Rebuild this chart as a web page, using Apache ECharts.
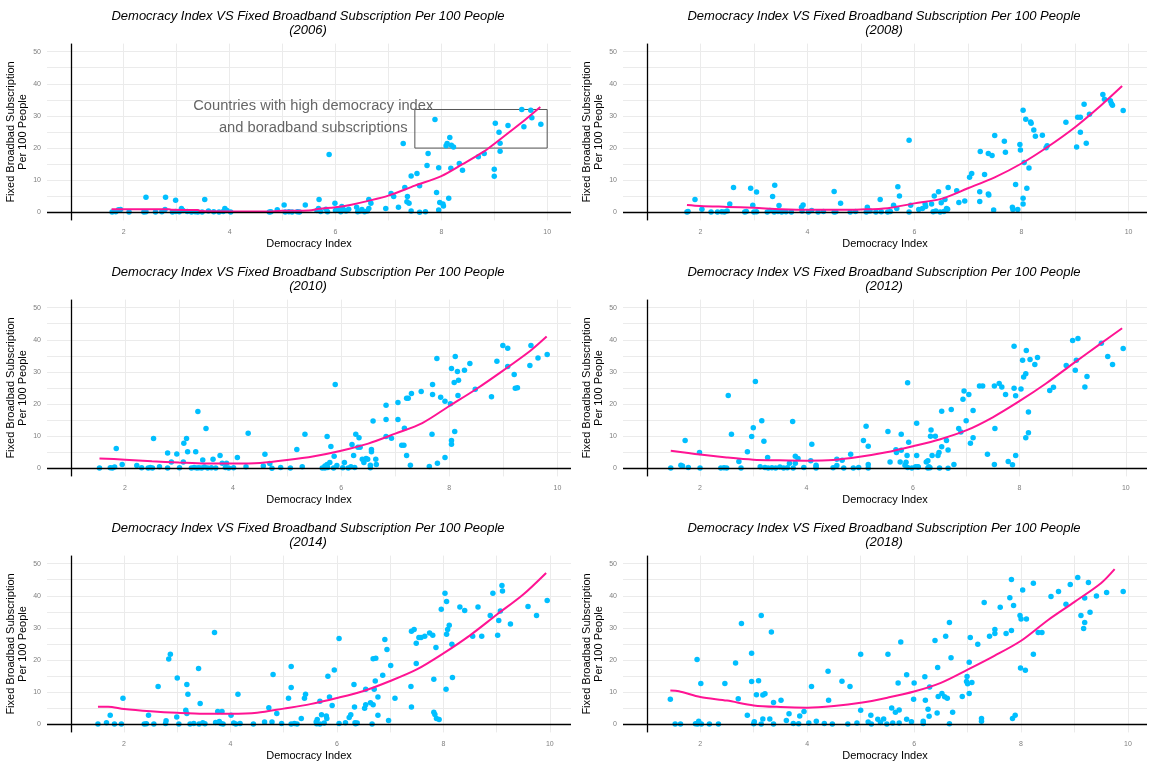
<!DOCTYPE html>
<html>
<head>
<meta charset="utf-8">
<script src="https://cdn.jsdelivr.net/npm/echarts@6/dist/echarts.min.js"></script>
<style>
  html, body { margin: 0; padding: 0; background: #fff; }
  #chart { width: 1152px; height: 768px; }
</style>
</head>
<body>
<div id="chart"></div>
<script>
// democracy index vs fixed broadband per 100 people, [x, y] per country
const years = ["2006", "2008", "2010", "2012", "2014", "2018"];

const pts2006 = [
  [1.78,0.1],[1.85,0.2],[1.9,0.8],[1.94,0.9],[2.1,0.1],[2.38,0.1],[2.42,0.2],[2.6,0.1],[2.72,0.2],[2.78,0.9],
  [2.92,0.1],[2.98,0.3],[3.05,0.2],[3.09,1.2],[3.12,0.6],[3.2,0.3],[3.28,0.1],[3.35,0.2],[3.4,0.1],[3.48,0.1],
  [3.6,0.4],[3.7,0.2],[3.8,0.1],[3.88,0.3],[3.91,1.2],[3.95,0.6],[4.02,0.1],[4.75,0.1],[4.78,0.2],[4.9,0.8],
  [5.05,0.1],[5.12,0.2],[5.18,0.1],[5.28,0.2],[5.32,0.1],[5.65,0.6],[5.68,1.2],[5.72,0.3],[5.82,1.0],[5.85,0.2],
  [6.0,0.6],[6.05,1.0],[6.1,0.2],[6.15,0.9],[6.2,0.4],[6.25,1.0],[6.42,0.2],[6.47,0.4],[6.5,0.9],[6.55,0.2],
  [6.6,0.4],[6.63,1.2],
  [2.42,4.7],[2.79,4.7],[2.98,3.8],[3.53,4.0],[5.03,2.3],[5.43,2.3],[5.69,4.0],[5.88,18.0],[5.99,2.8],[6.12,1.8],
  [6.4,1.6],[6.63,4.0],[6.67,2.8],[6.95,1.2],[7.05,5.9],[7.1,4.9],[7.19,1.6],[7.28,21.4],[7.31,7.7],[7.36,4.9],
  [7.35,3.3],[7.39,2.8],[7.43,11.3],[7.43,0.4],[7.54,12.1],[7.59,8.3],[7.59,0.0],[7.7,0.2],[7.73,14.6],[7.75,18.3],
  [7.88,28.9],[7.91,6.2],[7.95,13.9],[7.97,3.1],[7.95,0.7],[8.03,2.6],[8.04,2.0],[8.09,20.7],[8.11,21.4],[8.16,23.3],
  [8.14,4.4],[8.18,13.7],[8.19,20.9],[8.23,20.3],[8.34,15.2],[8.4,13.1],[8.7,17.3],[8.81,18.3],[9.02,27.7],[9.0,13.4],
  [9.0,11.2],[9.09,24.9],[9.11,19.0],[9.11,21.5],[9.26,27.0],[9.52,32.0],[9.56,26.6],[9.69,31.8],[9.71,29.4],[9.88,27.4]
];
const trend2006 = [
  [1.77,1.0],[2.2,1.0],[2.85,1.0],[2.9,0.8],[3.4,0.7],[3.45,0.4],[4.1,0.3],[4.8,0.3],[5.0,0.5],[5.5,0.6],
  [5.7,1.1],[6.0,1.6],[6.3,2.4],[6.6,3.5],[7.0,5.2],[7.5,8.3],[8.0,11.3],[8.4,15.0],[8.8,18.9],[9.1,22.6],
  [9.5,27.7],[9.87,32.8]
];

const pts2008 = [
  [1.75,0.1],[1.77,0.3],[2.2,0.1],[2.32,0.1],[2.4,0.2],[2.45,0.1],[2.5,0.4],[2.83,0.1],[2.86,0.3],[3.0,0.1],
  [3.05,0.2],[3.25,0.1],[3.3,0.6],[3.38,0.1],[3.45,0.3],[3.52,0.1],[3.6,0.2],[3.7,0.1],[3.9,0.4],[4.02,0.1],
  [4.08,0.6],[4.2,0.1],[4.3,0.3],[4.5,0.1],[4.53,0.2],[4.8,0.1],[4.9,0.3],[5.1,0.1],[5.17,0.4],[5.28,0.1],
  [5.38,0.2],[5.5,0.1],[5.55,0.3],[5.9,0.1],[6.35,0.2],[6.4,0.4],[6.48,0.1],[6.55,0.3],[6.62,1.0],
  [1.9,4.0],[2.03,1.0],[2.62,7.7],[2.94,7.5],[3.05,6.3],[2.98,2.2],[2.55,2.6],[3.35,4.9],[3.39,8.4],[3.47,2.1],
  [3.92,2.3],[3.89,1.6],[4.5,6.5],[4.62,2.8],[5.36,4.0],[5.12,1.6],[5.61,2.2],[5.69,8.0],[5.72,5.1],[5.67,1.2],
  [5.9,22.4],[5.93,2.2],[6.08,0.9],[6.15,1.2],[6.21,1.8],[6.2,2.6],[6.32,2.6],[6.37,5.1],[6.45,6.4],[6.5,3.0],
  [6.57,4.0],[6.63,7.7],[6.6,1.2],[6.79,6.7],[6.83,3.1],[6.94,3.5],[7.03,10.9],[7.07,12.1],[7.22,6.4],[7.22,3.4],
  [7.23,18.9],[7.31,11.8],[7.38,18.3],[7.38,5.7],[7.39,5.4],[7.45,17.7],[7.48,0.7],[7.5,23.9],[7.68,22.1],[7.7,18.7],
  [7.89,8.7],[7.83,1.6],[7.84,0.9],[7.93,0.9],[7.97,21.1],[7.98,19.4],[8.03,31.8],[8.05,15.5],[8.03,4.4],[8.03,2.6],
  [8.08,29.0],[8.1,7.5],[8.14,13.8],[8.17,28.1],[8.18,27.7],[8.23,25.6],[8.26,23.7],[8.39,24.0],[8.48,20.7],[8.46,20.1],
  [8.83,28.0],[9.03,20.3],[9.05,29.6],[9.1,29.6],[9.1,24.9],[9.17,33.6],[9.21,21.5],[9.27,30.5],[9.52,36.7],[9.55,35.2],
  [9.66,34.7],[9.68,33.9],[9.7,33.3],[9.9,31.7]
];
const trend2008 = [
  [1.75,2.3],[2.0,2.0],[2.5,1.7],[3.0,1.4],[3.5,1.0],[4.0,0.8],[4.5,0.8],[5.0,0.9],[5.5,1.3],[6.0,2.8],
  [6.5,4.2],[7.0,7.5],[7.5,10.9],[8.0,15.2],[8.5,20.5],[9.0,26.5],[9.5,33.5],[9.88,39.3]
];

const pts2010 = [
  [1.53,0.1],[1.73,0.2],[1.77,0.1],[1.81,0.4],[2.31,0.2],[2.43,0.1],[2.47,0.3],[2.51,0.1],[2.79,0.1],[3.01,0.2],
  [3.23,0.1],[3.28,0.3],[3.33,0.1],[3.37,0.2],[3.42,0.1],[3.47,0.4],[3.53,0.1],[3.6,0.2],[3.68,0.1],[3.86,0.3],
  [3.92,0.1],[4.01,0.2],[5.06,0.1],[5.7,0.1],[5.75,0.3],[5.86,0.1],[6.03,0.2],[6.13,0.1],[6.54,0.2],
  [1.84,6.2],[1.95,1.2],[2.22,0.9],[2.53,9.3],[2.64,0.5],[2.79,4.8],[2.86,2.0],[2.96,4.5],[3.09,7.8],[3.14,9.3],
  [3.16,5.2],[3.08,2.0],[3.31,5.2],[3.35,17.7],[3.44,2.6],[3.5,12.4],[3.63,2.8],[3.76,4.0],[3.8,1.6],[3.88,1.6],
  [4.08,3.4],[4.24,0.5],[4.28,10.9],[4.56,0.7],[4.59,4.4],[4.68,1.5],[4.72,0.0],[4.88,0.3],[5.18,5.9],[5.28,0.5],
  [5.33,10.6],[5.65,0.1],[5.7,0.7],[5.74,1.2],[5.79,1.8],[5.74,9.9],[5.81,6.8],[5.89,26.1],[5.87,3.8],[5.92,0.9],
  [6.06,1.8],[6.18,0.5],[6.2,7.4],[6.23,4.0],[6.25,0.3],[6.27,10.6],[6.31,6.6],[6.33,9.5],[6.35,6.6],[6.39,2.8],
  [6.42,1.8],[6.46,3.1],[6.49,2.8],[6.54,1.0],[6.56,5.9],[6.56,5.2],[6.59,14.7],[6.64,2.8],[6.65,1.2],[6.83,19.6],
  [6.83,15.2],[6.83,9.9],[6.93,9.4],[7.05,20.5],[7.05,15.2],[7.12,7.2],[7.16,7.2],[7.17,12.5],[7.21,21.8],[7.24,21.8],
  [7.21,4.0],[7.28,1.0],[7.3,23.3],[7.48,23.9],[7.63,0.6],[7.68,10.6],[7.69,26.1],[7.69,23.0],[7.77,34.2],[7.78,1.6],
  [7.84,22.1],[7.92,20.9],[7.92,3.4],[8.02,20.1],[8.04,31.1],[8.04,8.7],[8.04,7.5],[8.09,26.7],[8.1,11.5],[8.11,34.8],
  [8.15,30.1],[8.17,27.4],[8.16,22.7],[8.28,30.5],[8.38,32.6],[8.48,24.6],[8.78,22.3],[8.88,33.3],[8.99,38.2],[9.08,37.4],
  [9.08,31.7],[9.2,29.2],[9.22,24.9],[9.26,25.1],[9.49,32.0],[9.51,38.2],[9.64,34.3],[9.81,35.4]
];
const trend2010 = [
  [1.53,3.1],[2.0,2.7],[2.5,2.2],[3.0,1.8],[3.5,1.5],[4.0,1.5],[4.5,1.7],[5.0,2.6],[5.5,3.8],[6.0,5.5],
  [6.5,7.7],[7.0,10.8],[7.5,14.1],[8.0,19.4],[8.5,24.7],[9.0,30.5],[9.5,36.6],[9.8,41.0]
];

const pts2012 = [
  [1.45,0.1],[1.78,0.3],[2.0,0.1],[2.39,0.1],[2.45,0.2],[2.5,0.1],[2.77,0.1],[3.22,0.3],[3.28,0.1],[3.35,0.2],
  [3.42,0.1],[3.5,0.4],[3.57,0.1],[3.64,0.2],[3.75,0.1],[3.95,0.3],[4.18,0.1],[4.5,0.2],[4.7,0.1],[4.88,0.1],
  [4.98,0.3],[5.16,0.1],[5.9,0.3],[5.98,0.1],[6.1,0.4],[6.28,0.1],[6.32,0.2],[6.5,0.1],
  [1.72,8.7],[1.64,1.0],[1.67,0.7],[1.99,4.9],[2.53,22.7],[2.59,10.6],[2.73,2.1],[2.89,5.2],[2.97,9.9],[3.0,12.6],
  [3.04,27.0],[3.13,0.5],[3.16,14.8],[3.2,8.4],[3.27,3.4],[3.68,1.6],[3.74,14.6],[3.79,3.8],[3.84,3.1],[3.79,1.6],
  [4.1,7.5],[4.08,2.4],[4.18,1.0],[4.18,0.5],[4.57,2.8],[4.57,0.9],[4.67,2.5],[4.83,4.4],[5.07,8.7],[5.12,13.1],
  [5.16,6.9],[5.16,1.2],[5.53,11.5],[5.57,2.0],[5.68,5.8],[5.69,4.9],[5.78,10.6],[5.78,5.6],[5.76,2.0],[5.85,1.0],
  [5.87,1.9],[5.9,26.6],[5.92,8.1],[5.89,4.0],[6.05,0.5],[6.07,14.0],[6.07,4.0],[6.09,0.5],[6.25,2.0],[6.28,2.4],
  [6.3,0.5],[6.33,10.0],[6.34,11.9],[6.36,4.0],[6.42,10.0],[6.47,4.0],[6.49,4.9],[6.54,17.8],[6.54,6.7],[6.63,8.7],
  [6.66,5.7],[6.66,0.0],[6.72,18.3],[6.77,1.2],[6.86,12.4],[6.9,11.3],[6.94,21.5],[6.96,24.1],[7.0,14.8],[7.05,23.0],
  [7.08,7.8],[7.13,18.0],[7.13,9.5],[7.25,25.6],[7.31,25.6],[7.4,4.4],[7.53,25.6],[7.54,12.4],[7.53,1.2],[7.62,26.4],
  [7.67,25.3],[7.74,23.0],[7.79,2.1],[7.87,1.1],[7.9,38.0],[7.9,24.9],[7.93,22.6],[7.93,4.0],[8.03,24.7],[8.06,33.6],
  [8.08,28.4],[8.12,29.4],[8.12,9.5],[8.13,36.7],[8.17,17.5],[8.17,11.1],[8.2,33.9],[8.29,32.3],[8.34,34.5],[8.57,24.2],
  [8.64,25.2],[8.88,32.0],[9.0,39.8],[9.1,40.4],[9.07,33.6],[9.05,30.5],[9.23,25.3],[9.27,28.6],[9.54,38.9],[9.66,34.8],
  [9.75,32.3],[9.95,37.3]
];
const trend2012 = [
  [1.45,5.5],[2.0,4.3],[2.5,3.4],[3.0,2.7],[3.5,2.5],[4.0,2.4],[4.5,2.6],[5.0,3.6],[5.5,5.0],[6.0,6.9],
  [6.5,9.0],[7.0,11.8],[7.5,15.9],[8.0,20.9],[8.5,26.4],[9.0,32.5],[9.5,38.5],[9.93,43.6]
];

const pts2014 = [
  [1.51,0.1],[1.82,0.1],[1.95,0.1],[2.38,0.1],[2.42,0.2],[2.56,0.1],[2.78,0.3],[3.03,0.1],[3.24,0.1],[3.31,0.3],
  [3.41,0.1],[3.48,0.5],[3.52,0.2],[3.72,0.6],[3.82,0.3],[3.86,0.1],[4.06,0.4],[4.1,0.1],[4.18,0.3],[4.43,0.1],
  [4.96,0.3],[5.14,0.1],[5.2,0.3],[5.25,0.1],[5.62,0.2],[5.68,0.1],[5.76,0.4],[6.04,0.3],[6.35,0.2],[6.38,0.4],
  [6.66,0.1],
  [1.67,0.5],[1.74,2.8],[1.98,8.1],[2.46,2.8],[2.64,11.8],[2.79,1.1],[2.84,20.3],[2.87,21.8],[3.0,14.4],[2.99,2.3],
  [3.16,4.4],[3.18,3.4],[3.18,12.4],[3.2,9.4],[3.4,17.4],[3.43,6.5],[3.7,28.6],[3.76,4.0],[3.79,0.9],[3.84,4.0],
  [4.01,2.8],[4.14,9.4],[4.64,0.7],[4.72,5.2],[4.8,15.5],[4.78,0.7],[4.87,3.4],[5.09,8.1],[5.14,18.0],[5.14,11.5],
  [5.33,1.8],[5.39,8.1],[5.41,9.4],[5.63,1.5],[5.61,0.7],[5.68,7.2],[5.71,3.0],[5.8,2.6],[5.81,1.8],[5.83,15.0],
  [5.86,8.5],[5.91,5.9],[5.95,16.9],[6.04,26.7],[6.16,0.5],[6.23,2.1],[6.26,3.0],[6.32,12.4],[6.33,5.4],[6.34,0.5],
  [6.52,5.0],[6.54,6.1],[6.54,10.9],[6.63,6.7],[6.68,6.1],[6.68,20.4],[6.73,20.6],[6.7,10.9],[6.72,13.5],[6.77,8.5],
  [6.77,2.8],[6.86,15.3],[6.9,26.4],[6.94,23.3],[6.97,1.2],[7.01,18.3],[7.09,8.1],[7.39,11.8],[7.4,29.0],[7.45,29.5],
  [7.4,5.4],[7.49,25.2],[7.49,18.9],[7.54,27.0],[7.58,27.0],[7.65,27.4],[7.74,28.4],[7.8,27.7],[7.82,14.0],[7.82,3.8],
  [7.84,3.1],[7.86,23.9],[7.87,1.8],[7.92,1.5],[7.96,35.8],[8.03,40.8],[8.05,10.9],[8.06,38.2],[8.06,28.0],[8.08,29.5],
  [8.11,30.8],[8.16,24.9],[8.17,14.6],[8.31,36.5],[8.4,35.4],[8.55,27.4],[8.65,36.5],[8.72,27.4],[8.88,33.9],[8.93,40.8],
  [9.02,27.7],[9.04,32.3],[9.07,35.3],[9.1,43.2],[9.11,41.5],[9.26,31.2],[9.59,36.7],[9.75,33.9],[9.95,38.5]
];
const trend2014 = [
  [1.51,5.5],[1.7,5.5],[2.0,4.8],[2.5,4.1],[3.0,3.6],[3.5,3.3],[4.0,3.3],[4.5,3.6],[5.0,4.9],[5.5,6.3],
  [6.0,8.2],[6.5,10.4],[7.0,13.5],[7.5,17.1],[8.0,22.1],[8.5,27.7],[9.0,34.1],[9.5,40.4],[9.93,47.1]
];

const pts2018 = [
  [1.53,0.1],[1.63,0.1],[1.91,0.2],[1.95,0.1],[2.02,0.1],[2.17,0.1],[2.34,0.1],[3.0,0.2],[3.14,0.1],[3.37,0.1],
  [3.74,0.3],[3.84,0.2],[4.03,0.4],[4.32,0.3],[4.47,0.1],[4.76,0.1],[4.93,0.4],[5.2,0.1],[5.37,0.6],[5.49,0.1],
  [5.6,0.4],[5.72,0.4],[5.95,0.8],[6.17,0.3],[6.66,0.2],
  [1.44,7.8],[1.94,20.2],[1.97,1.0],[2.01,12.7],[2.46,12.7],[2.66,19.1],[2.71,8.0],[2.77,31.4],[2.88,2.8],[2.96,22.1],
  [2.96,13.3],[3.01,0.8],[3.05,9.2],[3.09,13.6],[3.14,33.9],[3.17,9.1],[3.21,9.5],[3.17,1.7],[3.3,1.7],[3.33,28.7],
  [3.37,6.8],[3.51,7.5],[3.61,1.2],[3.66,3.3],[3.86,2.6],[3.94,4.0],[4.08,11.8],[4.17,1.0],[4.39,16.5],[4.4,7.5],
  [4.65,13.4],[4.8,11.8],[5.0,21.8],[5.0,4.4],[5.19,2.8],[5.14,0.7],[5.32,1.6],[5.43,1.7],[5.51,21.8],[5.58,5.1],
  [5.65,3.8],[5.7,12.9],[5.72,4.5],[5.75,25.6],[5.86,15.4],[5.86,1.6],[5.99,7.8],[6.0,12.9],[6.17,1.0],[6.2,14.8],
  [6.21,7.5],[6.26,4.7],[6.28,2.5],[6.29,11.6],[6.39,26.1],[6.43,3.5],[6.44,17.7],[6.45,8.7],[6.52,9.6],[6.57,8.6],
  [6.59,27.4],[6.62,8.1],[6.66,31.7],[6.69,20.7],[6.72,3.8],[6.9,8.7],[6.99,14.9],[6.98,13.3],[7.0,12.6],[7.03,19.3],
  [7.03,9.6],[7.05,27.0],[7.08,13.0],[7.19,24.9],[7.26,1.8],[7.26,1.0],[7.31,37.9],[7.41,27.4],[7.51,29.5],[7.51,28.3],
  [7.61,36.4],[7.72,28.3],[7.79,39.4],[7.82,45.1],[7.82,29.2],[7.84,1.8],[7.86,37.0],[7.89,2.8],[7.98,33.9],[8.0,32.8],
  [7.99,17.5],[8.03,41.8],[8.1,32.8],[8.08,16.8],[8.23,43.9],[8.23,21.8],[8.32,28.6],[8.39,28.6],[8.56,39.8],[8.7,41.3],
  [8.84,37.4],[8.92,43.5],[9.06,45.7],[9.12,33.9],[9.19,39.3],[9.19,31.7],[9.17,29.8],[9.26,44.1],[9.29,34.9],[9.41,39.9],
  [9.6,41.0],[9.91,41.3]
];
const trend2018 = [
  [1.44,10.5],[1.6,10.3],[2.0,8.5],[2.5,7.4],[3.0,5.9],[3.5,5.4],[4.0,5.2],[4.5,5.7],[5.0,6.7],[5.5,8.3],
  [6.0,10.2],[6.5,12.9],[7.0,17.0],[7.5,21.3],[8.0,26.0],[8.5,32.4],[9.0,38.1],[9.5,44.0],[9.75,48.3]
];

const points = [pts2006, pts2008, pts2010, pts2012, pts2014, pts2018];
const trends = [trend2006, trend2008, trend2010, trend2012, trend2014, trend2018];

const xTicks = [2, 4, 6, 8, 10];
const xGridValues = [1, 2, 3, 4, 5, 6, 7, 8, 9, 10];
const yTicks = [0, 10, 20, 30, 40, 50];
const yGridValues = [0, 5, 10, 15, 20, 25, 30, 35, 40, 45, 50];

// annotation on the 2006 panel
const noteText = "Countries with high democracy index\nand boradband subscriptions";
const noteAt = [5.58, 29.6];
const noteBox = [[7.5, 20], [10, 32]];

const font = "Liberation Sans, Arial, sans-serif";
const titleText = "Democracy Index VS Fixed Broadband Subscription Per 100 People";
const yName = "Fixed Broadbad Subscription\nPer 100 People";

const chart = echarts.init(document.getElementById("chart"), null, { renderer: "canvas" });

const grids = [], xAxes = [], yAxes = [], titles = [], series = [];

years.forEach((yr, i) => {
  const col = i % 2;
  const row = Math.floor(i / 2);
  const left = 47 + col * 576;
  const top = 43.6 + row * 256;
  const width = 524;
  const height = 176.8;

  grids.push({ left, top, width, height, containLabel: false });

  // ggplot-like range: from the vline at 1 to the data max, 5% padding
  let xMax = Math.max(...points[i].map((p) => p[0]));
  if (i === 0) xMax = Math.max(xMax, noteBox[1][0]);
  const pad = (xMax - 1) * 0.05;

  xAxes.push({
    type: "value",
    gridIndex: i,
    min: 1 - pad,
    max: xMax + pad,
    name: "Democracy Index",
    nameLocation: "middle",
    nameGap: 18,
    nameTextStyle: { fontSize: 11, color: "#000", fontFamily: font },
    axisLine: { show: false, onZero: false },
    axisTick: { show: false, customValues: xGridValues },
    axisLabel: {
      customValues: xTicks,
      fontSize: 7,
      color: "#808080",
      margin: 8,
      fontFamily: font,
    },
    splitLine: { show: true, lineStyle: { color: "#ebebeb", width: 1 } },
  });

  yAxes.push({
    type: "value",
    gridIndex: i,
    min: -2.5,
    max: 52.5,
    name: yName,
    nameLocation: "middle",
    nameGap: 13,
    nameRotate: 90,
    nameTextStyle: { fontSize: 11, lineHeight: 12, color: "#000", fontFamily: font },
    axisLine: { show: false, onZero: false },
    axisTick: { show: false, customValues: yGridValues },
    axisLabel: {
      customValues: yTicks,
      fontSize: 7,
      color: "#808080",
      margin: 6,
      fontFamily: font,
    },
    splitLine: { show: true, lineStyle: { color: "#ebebeb", width: 1 } },
  });

  titles.push({
    text: `${titleText}\n(${yr})`,
    left: left + width / 2 - 1,
    top: 9 + row * 256,
    textAlign: "center",
    padding: 0,
    textStyle: {
      fontSize: 13,
      lineHeight: 14.3,
      fontStyle: "italic",
      fontWeight: "normal",
      color: "#000",
      fontFamily: font,
    },
  });

  // reference lines x = 1 and y = 0
  series.push({
    type: "line",
    xAxisIndex: i,
    yAxisIndex: i,
    data: [],
    z: 1,
    silent: true,
    markLine: {
      silent: true,
      symbol: "none",
      label: { show: false },
      lineStyle: { color: "#000", width: 1.3, type: "solid" },
      data: [{ xAxis: 1 }, { yAxis: 0 }],
    },
  });

  const scatter = {
    type: "scatter",
    xAxisIndex: i,
    yAxisIndex: i,
    data: points[i],
    symbolSize: 5.5,
    itemStyle: { color: "#00bfff", opacity: 1 },
    z: 2,
  };
  if (i === 0) {
    scatter.markPoint = {
      silent: true,
      symbol: "circle",
      symbolSize: 0,
      label: {
        show: true,
        position: "inside",
        formatter: noteText,
        fontSize: 14.7,
        lineHeight: 21.7,
        color: "#666666",
        align: "center",
        fontFamily: font,
      },
      data: [{ coord: noteAt }],
    };
    scatter.markArea = {
      silent: true,
      itemStyle: { color: "rgba(0,0,0,0)", borderColor: "#555555", borderWidth: 1 },
      data: [[{ coord: noteBox[0] }, { coord: noteBox[1] }]],
    };
  }
  series.push(scatter);

  series.push({
    type: "line",
    xAxisIndex: i,
    yAxisIndex: i,
    data: trends[i],
    smooth: 0.3,
    showSymbol: false,
    lineStyle: { color: "#ff1493", width: 2 },
    z: 3,
  });
});

chart.setOption({
  animation: false,
  backgroundColor: "#ffffff",
  title: titles,
  grid: grids,
  xAxis: xAxes,
  yAxis: yAxes,
  series,
});
</script>
</body>
</html>
